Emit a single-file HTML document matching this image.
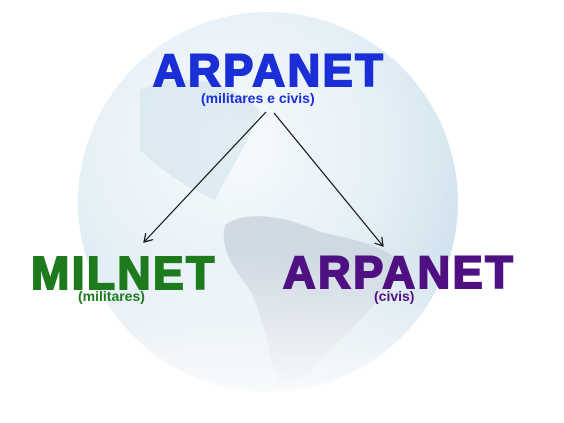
<!DOCTYPE html>
<html><head><meta charset="utf-8"><style>
html,body{margin:0;padding:0;background:#fff}
body{width:564px;height:423px;position:relative;overflow:hidden;font-family:"Liberation Sans",Arial,sans-serif}
.t{position:absolute;font-weight:bold;white-space:nowrap;line-height:1;-webkit-text-stroke:2px currentColor;letter-spacing:2.6px}
.s{position:absolute;font-weight:bold;white-space:nowrap;line-height:1;font-size:14px}
</style></head><body>
<svg width="564" height="423" style="position:absolute;left:0;top:0">
<defs>
<radialGradient id="g" cx="0.4" cy="0.35" r="0.7">
<stop offset="0" stop-color="#f7fbfd"/>
<stop offset="0.6" stop-color="#e4eff6"/>
<stop offset="1" stop-color="#cde0ec"/>
</radialGradient>
<linearGradient id="fade" x1="0" y1="0" x2="0" y2="1">
<stop offset="0.6" stop-color="#fff" stop-opacity="0"/>
<stop offset="0.97" stop-color="#fff" stop-opacity="1"/>
</linearGradient>
<marker id="a" markerWidth="10" markerHeight="10" refX="8" refY="5" orient="auto" markerUnits="userSpaceOnUse">
<path d="M0,0 L8,5 L0,10" fill="none" stroke="#111" stroke-width="1.2"/>
</marker>
</defs>
<circle cx="268" cy="202" r="190" fill="url(#g)"/>
<path d="M225,225 C245,210 285,215 320,232 C360,240 395,250 400,265 C385,300 350,330 320,360 C300,385 290,395 280,390 C270,360 265,320 250,290 C230,265 220,245 225,225Z" fill="#c9d3dd" opacity="0.8"/>
<path d="M140,90 C180,70 230,80 260,110 C250,140 230,170 215,200 C190,190 160,170 140,150Z" fill="#d2e2ec" opacity="0.6"/>
<rect x="70" y="0" width="420" height="423" fill="url(#fade)"/>
<line x1="266" y1="112" x2="144" y2="242" stroke="#111" stroke-width="1.2" marker-end="url(#a)"/>
<line x1="274" y1="113" x2="383" y2="246" stroke="#111" stroke-width="1.2" marker-end="url(#a)"/>
</svg>
<div class="t" style="left:153px;top:48px;font-size:45px;color:#1a2fd6">ARPANET</div>
<div class="s" style="left:201px;top:91px;color:#1a2fd6">(militares e civis)</div>
<div class="t" style="left:31px;top:250px;font-size:46px;color:#1d7a1d;letter-spacing:2.4px">MILNET</div>
<div class="s" style="left:78px;top:289px;color:#1d7a1d">(militares)</div>
<div class="t" style="left:283px;top:250px;font-size:45px;color:#4f1181">ARPANET</div>
<div class="s" style="left:374px;top:289px;color:#4f1181">(civis)</div>
</body></html>
